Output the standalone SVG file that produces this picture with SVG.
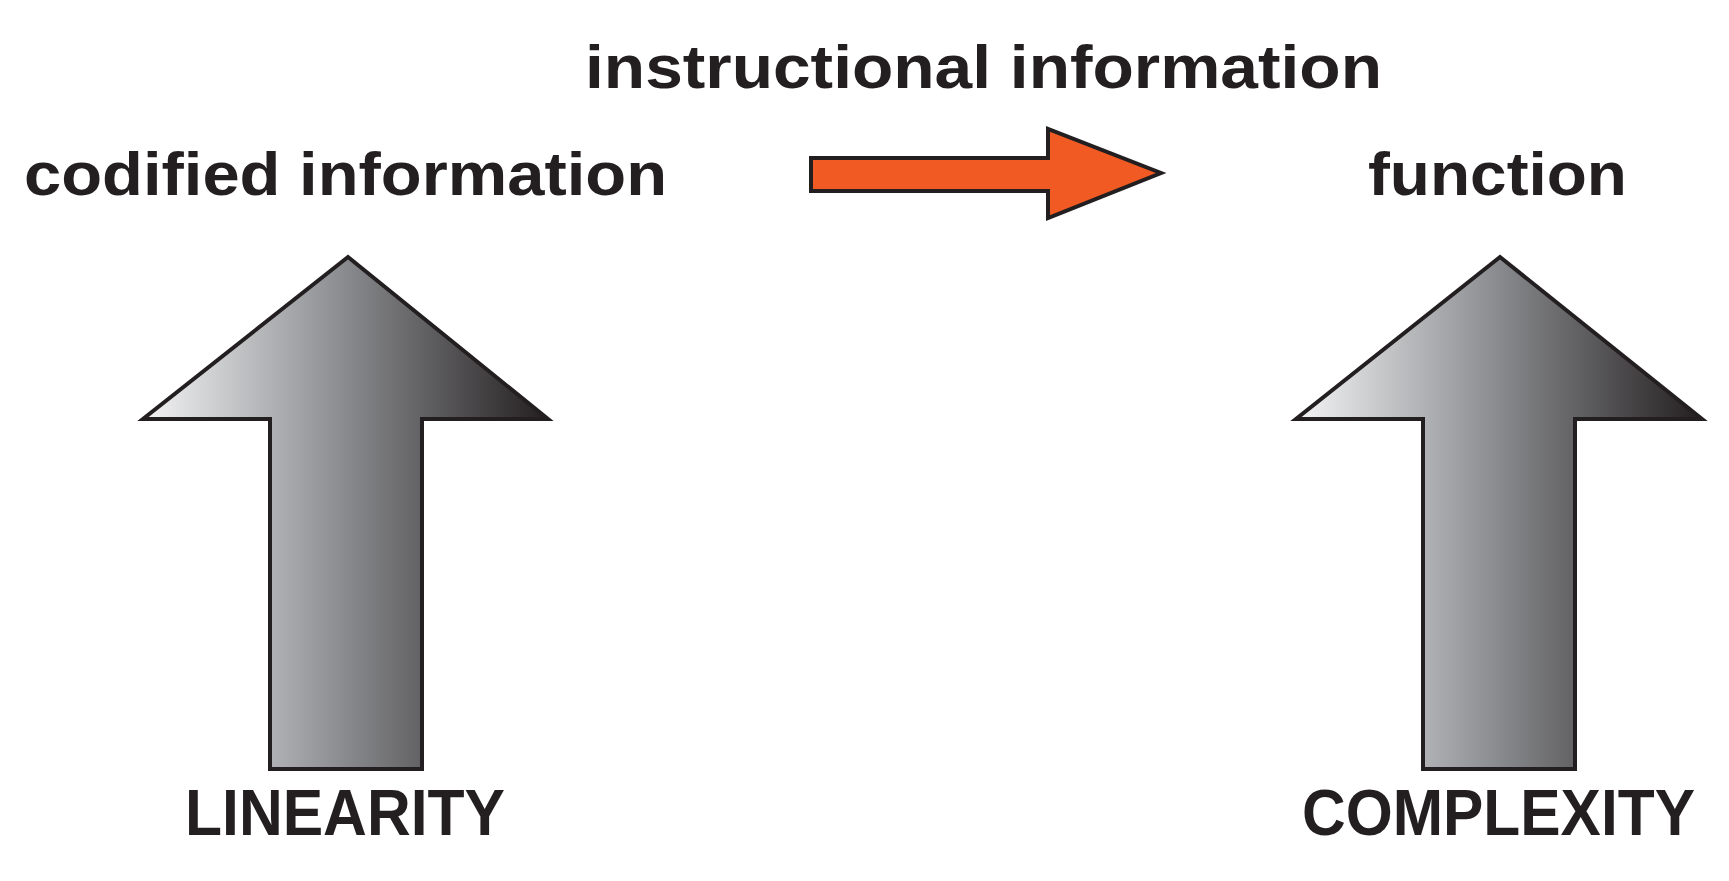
<svg xmlns="http://www.w3.org/2000/svg" width="1729" height="881" viewBox="0 0 1729 881">
<style>
text{font-family:"Liberation Sans",Arial,sans-serif;font-weight:bold;fill:#231f20}
.g{stroke:#231f20;stroke-width:4}
</style>
<defs>
<linearGradient id="gs" x1="0" x2="1" y1="0" y2="0"><stop offset="0" stop-color="#f4f4f5"/><stop offset="0.45" stop-color="#939598"/><stop offset="1" stop-color="#231f20"/></linearGradient>
</defs>
<rect width="1729" height="881" fill="#fff"/>
<g id="left-arrow">
<polygon class="g" fill="url(#gs)" points="348,257 548,419 422,419 422,769 270,769 270,419 143,419"/>
</g>
<g id="right-arrow">
<polygon class="g" fill="url(#gs)" points="1500,257 1702,419 1575,419 1575,769 1423,769 1423,419 1296,419"/>
</g>
<g id="connectors">
<polygon fill="#f15a22" stroke="#231f20" stroke-width="4" points="811,158 1048,158 1048,129 1161,173 1048,218 1048,191 811,191"/>
</g>
<g id="labels">
<text x="585" y="88" font-size="62" textLength="797" lengthAdjust="spacingAndGlyphs">instructional information</text>
<text x="24" y="195" font-size="62" textLength="643" lengthAdjust="spacingAndGlyphs">codified information</text>
<text x="1368" y="195" font-size="62" textLength="259" lengthAdjust="spacingAndGlyphs">function</text>
<text x="185" y="835" font-size="64" textLength="320" lengthAdjust="spacingAndGlyphs">LINEARITY</text>
<text x="1302" y="835" font-size="64" textLength="393" lengthAdjust="spacingAndGlyphs">COMPLEXITY</text>
</g>
</svg>
